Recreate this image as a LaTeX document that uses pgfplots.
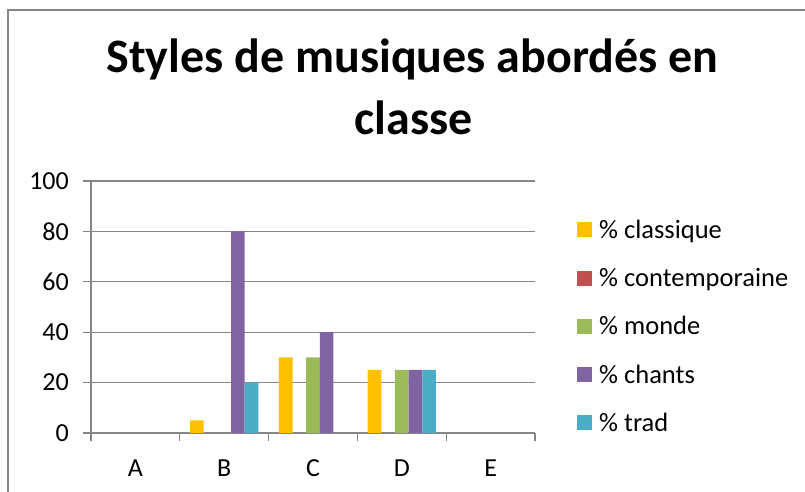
\documentclass[border=0pt]{standalone}
\usepackage{fontspec}
\setmainfont{Carlito}
\usepackage{pgfplots}
\pgfplotsset{compat=1.18}
\definecolor{gridgray}{HTML}{868686}
\definecolor{cclass}{HTML}{FFC000}
\definecolor{ccont}{HTML}{C0504D}
\definecolor{cmonde}{HTML}{9BBB59}
\definecolor{cchant}{HTML}{8064A2}
\definecolor{ctrad}{HTML}{4BACC6}
\begin{document}
\begin{tikzpicture}[x=1pt,y=1pt]
\useasboundingbox (0,0) rectangle (805,492);
\draw[gridgray, line width=1.2pt] (8,-5) -- (8,482) -- (815,482);
\node[anchor=base, font=\fontsize{48}{48}\selectfont\bfseries] at (412.5,419) {Styles de musiques abordés en};
\node[anchor=base, font=\fontsize{48}{48}\selectfont\bfseries] at (413.5,357) {classe};
\begin{axis}[
  at={(91pt,59pt)}, anchor=south west,
  scale only axis, width=444pt, height=252pt,
  ybar=0pt, bar width=13.66pt,
  xmin=-0.5, xmax=4.5, ymin=0, ymax=100,
  restrict y to domain=0.1:1000,
  axis lines=left,
  x axis line style={-},
  y axis line style={-},
  axis line style={gridgray, line width=1.2pt},
  xtick={0,1,2,3,4}, xticklabels={A,B,C,D,E},
  major x tick style={draw=none},
  minor xtick={-0.5,0.5,1.5,2.5,3.5,4.5},
  minor x tick style={gridgray, line width=1.2pt},
  minor tick length=8pt,
  ytick={0,20,40,60,80,100},
  major tick length=8pt,
  tick align=outside,
  y tick style={gridgray, line width=1.2pt},
  ymajorgrids, grid style={gridgray, line width=1.2pt},
  /pgf/number format/assume math mode=true,
  tick label style={font=\fontsize{26}{26}\selectfont},
  yticklabel style={anchor=east, inner sep=0pt, xshift=-14pt},
  xticklabel style={anchor=base, inner sep=0pt, yshift=-35pt},
  legend style={at={(1.0946,0.8373)}, anchor=north west, draw=none, fill=none,
    inner sep=0pt, row sep=27.3pt, column sep=7pt,
    font=\fontsize{26.5}{26.5}\selectfont,
    nodes={inner sep=0pt, text height=15pt, text depth=5pt}},
  legend cell align=left,
  legend image code/.code={\fill[#1] (0pt,-4pt) rectangle (15pt,11pt);},
]
% values: A, B, C, D, E (zeros draw no bar)
\addplot[fill=cclass, draw=none, bar shift=-27.32pt] coordinates {(0,0) (1,5) (2,30) (3,25) (4,0)};
\addlegendentry{\% classique}
% % contemporaine: 0 in every category
\addlegendimage{fill=ccont, draw=none}
\addlegendentry{\% contemporaine}
\addplot[fill=cmonde, draw=none, bar shift=0pt] coordinates {(0,0) (1,0) (2,30) (3,25) (4,0)};
\addlegendentry{\% monde}
\addplot[fill=cchant, draw=none, bar shift=13.66pt] coordinates {(0,0) (1,80) (2,40) (3,25) (4,0)};
\addlegendentry{\% chants}
\addplot[fill=ctrad, draw=none, bar shift=27.32pt] coordinates {(0,0) (1,20) (2,0) (3,25) (4,0)};
\addlegendentry{\% trad}
\end{axis}
\end{tikzpicture}
\end{document}
